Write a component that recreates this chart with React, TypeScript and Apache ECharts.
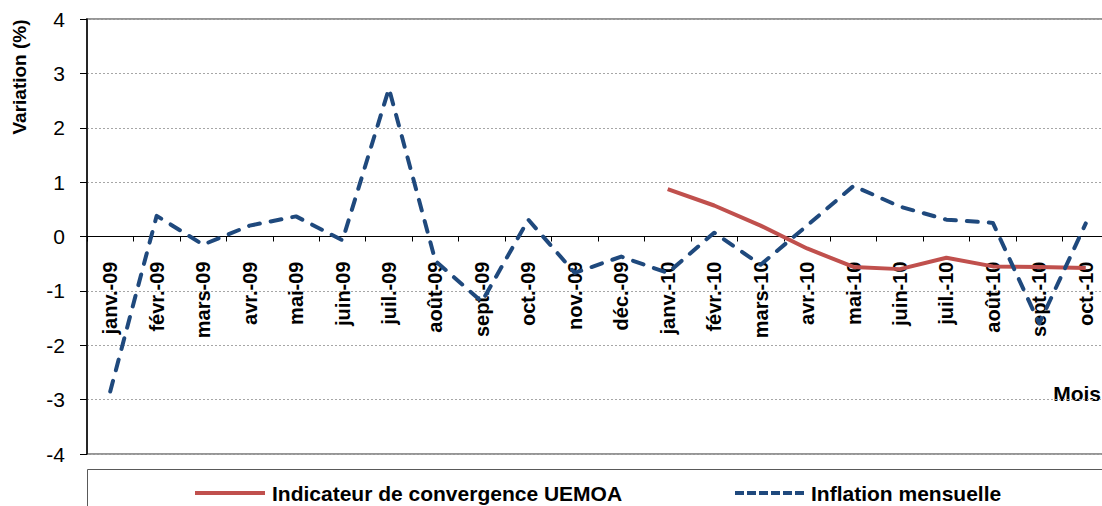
import React, { useEffect, useRef } from "react";
import * as echarts from "echarts";

const months = [
  "janv.-09", "févr.-09", "mars-09", "avr.-09", "mai-09", "juin-09", "juil.-09", "août-09",
  "sept.-09", "oct.-09", "nov.-09", "déc.-09", "janv.-10", "févr.-10", "mars-10", "avr.-10",
  "mai-10", "juin-10", "juil.-10", "août-10", "sept.-10", "oct.-10",
];

const inflationMensuelle = [
  -2.85, 0.38, -0.15, 0.2, 0.37, -0.07, 2.72, -0.45, -1.2, 0.31, -0.67, -0.37,
  -0.67, 0.07, -0.52, 0.2, 0.93, 0.55, 0.31, 0.25, -1.6, 0.24,
];

const indicateurConvergence = [
  null, null, null, null, null, null, null, null, null, null, null, null,
  0.87, 0.57, 0.2, -0.22, -0.56, -0.6, -0.39, -0.55, -0.56, -0.58,
];

const yTicks = { min: -4, max: 4, interval: 1 };

const seriesNames = ["Indicateur de convergence UEMOA", "Inflation mensuelle"];

const FONT = 'Arial, "Liberation Sans", sans-serif';
const RED = "#C0504D";
const BLUE = "#1F497D";

export default function App() {
  const ref = useRef<HTMLDivElement>(null);

  useEffect(() => {
    if (!ref.current) return;
    const chart = echarts.init(ref.current, undefined, { renderer: "svg" });
    const dashPath =
      "path://M0,0H9V4H0Z M12,0H21V4H12Z M24,0H33V4H24Z M36,0H45V4H36Z M48,0H57V4H48Z M60,0H69V4H60Z";
    const legendText = {
      fontFamily: FONT,
      fontSize: 21,
      fontWeight: "bold" as const,
      color: "#000",
      lineHeight: 24,
      padding: [0, 0, 0, 2],
    };
    const gridTop = 19;
    const gridHeight = 435;
    // the category axis sits on the zero line: shift it up from the grid bottom
    const zeroOffset = -(gridHeight * (0 - yTicks.min)) / (yTicks.max - yTicks.min);
    chart.setOption({
      animation: false,
      backgroundColor: "#fff",
      grid: {
        left: 87,
        top: gridTop,
        width: 1022,
        height: gridHeight,
        show: true,
        borderColor: "#969696",
        borderWidth: 2,
        backgroundColor: "transparent",
        containLabel: false,
        outerBoundsMode: "none",
      },
      legend: [
        {
          left: 195,
          top: 481,
          padding: 0,
          itemWidth: 70,
          itemHeight: 4,
          icon: "path://M0,0H70V4H0Z",
          data: [seriesNames[0]],
          textStyle: legendText,
          selectedMode: false,
        },
        {
          left: 735,
          top: 481,
          padding: 0,
          itemWidth: 69,
          itemHeight: 4,
          icon: dashPath,
          data: [seriesNames[1]],
          textStyle: legendText,
          selectedMode: false,
        },
      ],
      xAxis: {
        type: "category",
        data: months,
        boundaryGap: true,
        position: "bottom",
        offset: zeroOffset,
        axisLine: { onZero: false, lineStyle: { color: "#000", width: 1 } },
        axisTick: { show: true, length: 5, interval: 0, lineStyle: { color: "#000" } },
        axisLabel: {
          rotate: 90,
          interval: 0,
          margin: 25,
          fontFamily: FONT,
          fontSize: 20,
          fontWeight: "bold",
          color: "#000",
        },
        splitLine: { show: false },
      },
      yAxis: {
        type: "value",
        min: yTicks.min,
        max: yTicks.max,
        interval: yTicks.interval,
        axisLine: { show: true, lineStyle: { color: "#000", width: 1.5 } },
        axisTick: { show: true, length: 7, lineStyle: { color: "#000" } },
        axisLabel: {
          margin: 22,
          fontFamily: FONT,
          fontSize: 21,
          color: "#000",
        },
        splitLine: {
          show: true,
          lineStyle: { color: "#a6a6a6", type: [2, 2], width: 1 },
        },
      },
      graphic: [
        {
          type: "text",
          x: 19,
          y: 77,
          rotation: Math.PI / 2,
          style: {
            text: "Variation (%)",
            fontFamily: FONT,
            fontSize: 19,
            fontWeight: "bold",
            fill: "#000",
            align: "center",
            verticalAlign: "middle",
          },
        },
        {
          type: "text",
          x: 1101,
          y: 393,
          style: {
            text: "Mois",
            fontFamily: FONT,
            fontSize: 21,
            fontWeight: "bold",
            fill: "#000",
            align: "right",
            verticalAlign: "middle",
          },
        },
        {
          type: "rect",
          shape: { x: 87.5, y: 469.5, width: 1100, height: 100 },
          style: { fill: "none", stroke: "#595959", lineWidth: 1 },
          silent: true,
        },
      ],
      series: [
        {
          name: seriesNames[0],
          type: "line",
          data: indicateurConvergence,
          symbol: "none",
          color: RED,
          itemStyle: { color: RED },
          lineStyle: { color: RED, width: 4 },
          connectNulls: false,
          z: 3,
        },
        {
          name: seriesNames[1],
          type: "line",
          data: inflationMensuelle,
          symbol: "none",
          color: BLUE,
          itemStyle: { color: BLUE },
          lineStyle: { color: BLUE, width: 4, type: [11, 11], cap: "round", join: "round" },
          z: 4,
        },
      ],
    });
    return () => chart.dispose();
  }, []);

  return (
    <div
      ref={ref}
      style={{ position: "fixed", left: 0, top: 0, width: 1102, height: 506, background: "#fff" }}
    />
  );
}
